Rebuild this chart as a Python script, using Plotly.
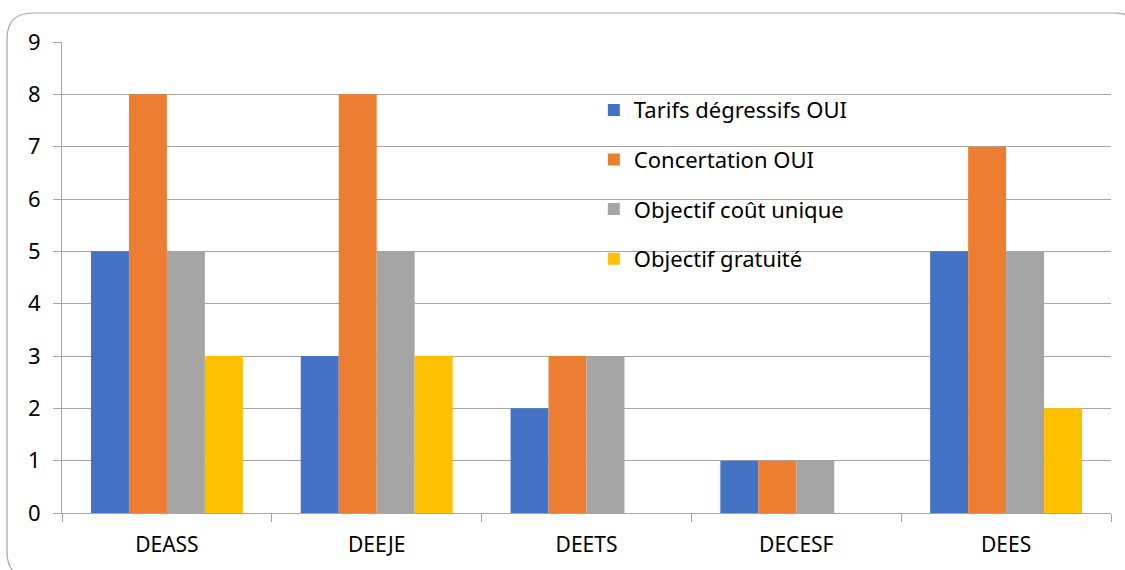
import plotly.graph_objects as go

categories = ['DEASS', 'DEEJE', 'DEETS', 'DECESF', 'DEES']
series_names = ['Tarifs dégressifs OUI', 'Concertation OUI', 'Objectif coût unique', 'Objectif gratuité']
tarifs = [5, 3, 2, 1, 5]
concertation = [8, 8, 3, 1, 7]
cout_unique = [5, 5, 3, 1, 5]
gratuite = [3, 3, 0, 0, 2]
colors = ['#4472c4', '#ed7d31', '#a5a5a5', '#ffc000']

W, H = 1125, 570
ML, MR, MT, MB = 62, 14, 42, 57
PW, PH = W - ML - MR, H - MT - MB

fig = go.Figure()
for i, (name, vals) in enumerate(zip(series_names, [tarifs, concertation, cout_unique, gratuite])):
    fig.add_trace(go.Bar(
        x=categories, y=vals, name=name,
        marker=dict(color=colors[i], line=dict(width=0)),
        legendgroup=f'g{i}',
    ))


def px(x):
    return (x - ML) / PW


def py(y):
    return (H - MB - y) / PH


# rounded chart border (runs off the right and bottom edges like the source)
x0, x1, y0, y1 = 7, 1140, 13, 578
r = 26
path = (
    f'M {px(x0)},{py(y0 + r)} '
    f'Q {px(x0)},{py(y0)} {px(x0 + r)},{py(y0)} '
    f'L {px(x1 - r)},{py(y0)} '
    f'Q {px(x1)},{py(y0)} {px(x1)},{py(y0 + r)} '
    f'L {px(x1)},{py(y1 - r)} '
    f'Q {px(x1)},{py(y1)} {px(x1 - r)},{py(y1)} '
    f'L {px(x0 + r)},{py(y1)} '
    f'Q {px(x0)},{py(y1)} {px(x0)},{py(y1 - r)} Z'
)

fig.update_layout(
    width=W, height=H,
    margin=dict(l=ML, r=MR, t=MT, b=MB),
    barmode='group',
    bargap=0.276,
    bargroupgap=0,
    plot_bgcolor='white',
    paper_bgcolor='white',
    font=dict(family='Noto Sans', size=22, color='#000000'),
    showlegend=True,
    legend=dict(
        x=0.507, y=0.90, xanchor='left', yanchor='top',
        bgcolor='rgba(0,0,0,0)',
        font=dict(size=22, color='#000000'),
        tracegroupgap=18,
        itemwidth=30,
    ),
    shapes=[dict(
        type='path', path=path, xref='paper', yref='paper',
        line=dict(color='#a6a6a6', width=1.2), layer='below',
    )],
)

fig.update_xaxes(
    showline=True, linecolor='#a6a6a6', linewidth=1,
    ticks='outside', tickson='boundaries', ticklen=8, tickcolor='#a6a6a6',
    showgrid=False,
    tickfont=dict(size=21, color='#000000'),
    ticklabelstandoff=13,
)
fig.update_yaxes(
    range=[0, 9], dtick=1,
    showline=True, linecolor='#a6a6a6', linewidth=1,
    ticks='outside', ticklen=8, tickcolor='#a6a6a6',
    showgrid=True, gridcolor='#a6a6a6', gridwidth=1,
    zeroline=False,
    tickfont=dict(size=22, color='#000000'),
    ticklabelstandoff=8,
)

fig.write_html('out.html', config={'displayModeBar': False},
               post_script="document.body.style.margin='0px';")
